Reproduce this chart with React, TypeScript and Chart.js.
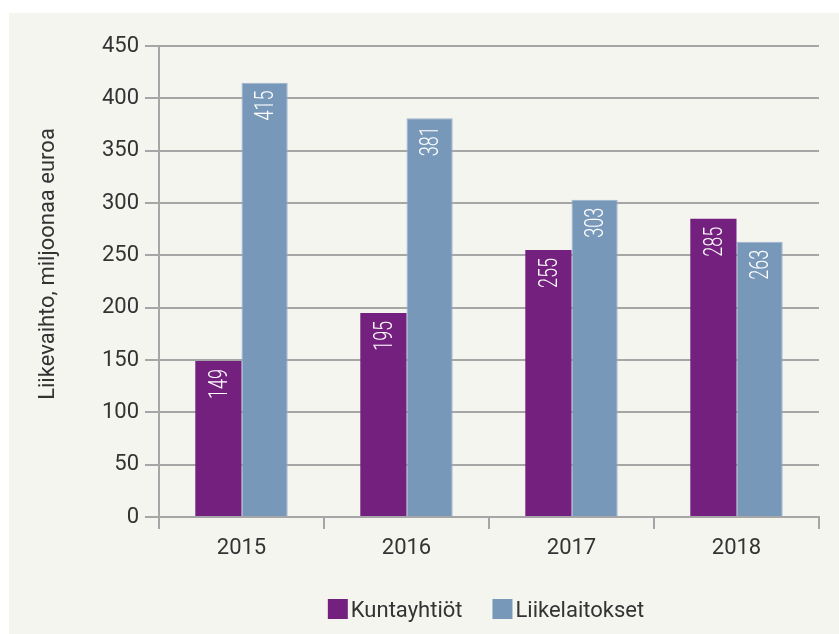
import React, { useEffect, useRef } from "react";
import { Chart, registerables } from "chart.js";

Chart.register(...registerables);

const categories = ["2015", "2016", "2017", "2018"];
const seriesNames = ["Kuntayhtiöt", "Liikelaitokset"];
const kuntayhtiot = [149, 195, 255, 285];
const liikelaitokset = [415, 381, 303, 263];
const yTitle = "Liikevaihto, miljoonaa euroa";

const PURPLE = "#74207f";
const BLUE = "#7898ba";
const FONT = "Roboto";
const TEXT = "#333333";
const GRID = "#a6a6a6";

const bgPlugin = {
  id: "bgBox",
  beforeDraw(chart: any) {
    const ctx = chart.ctx;
    ctx.save();
    ctx.fillStyle = "#ffffff";
    ctx.fillRect(0, 0, chart.width, chart.height);
    ctx.fillStyle = "#f5f5f0";
    ctx.fillRect(9, 13, chart.width - 9, chart.height - 13);
    ctx.restore();
  },
};

const labelPlugin = {
  id: "barLabels",
  afterDatasetsDraw(chart: any) {
    const ctx = chart.ctx;
    ctx.save();
    ctx.fillStyle = "#ffffff";
    ctx.font = `300 25px ${FONT}`;
    ctx.textAlign = "right";
    ctx.textBaseline = "alphabetic";
    chart.data.datasets.forEach((ds: any, di: number) => {
      const meta = chart.getDatasetMeta(di);
      meta.data.forEach((el: any, i: number) => {
        const v = ds.data[i];
        ctx.save();
        ctx.translate(el.x, el.y + 8);
        ctx.rotate(-Math.PI / 2);
        ctx.scale(0.72, 1);
        ctx.fillText(String(v), 0, 25 * 0.711 / 2);
        ctx.restore();
      });
    });
    ctx.restore();
  },
};

const titleLegendPlugin = {
  id: "titleLegend",
  afterDraw(chart: any) {
    const ctx = chart.ctx;
    const area = chart.chartArea;
    ctx.save();
    ctx.fillStyle = TEXT;
    ctx.font = `22px ${FONT}`;
    ctx.textAlign = "center";
    ctx.textBaseline = "middle";
    ctx.translate(48, 264);
    ctx.rotate(-Math.PI / 2);
    ctx.fillText(yTitle, 0, 0);
    ctx.restore();

    ctx.save();
    ctx.font = `22px ${FONT}`;
    ctx.textBaseline = "alphabetic";
    ctx.textAlign = "left";
    const box = 20;
    const gap = 3;
    const spacing = 30;
    const items = chart.data.datasets.map((ds: any) => ({
      label: ds.label,
      color: ds.backgroundColor,
      w: ctx.measureText(ds.label).width,
    }));
    let total = 0;
    items.forEach((it: any, i: number) => {
      total += box + gap + it.w + (i > 0 ? spacing : 0);
    });
    let x = (area.left + area.right) / 2 - total / 2 - 3;
    const boxTop = 599;
    items.forEach((it: any) => {
      ctx.fillStyle = it.color;
      ctx.fillRect(x, boxTop, box, box);
      ctx.fillStyle = TEXT;
      ctx.fillText(it.label, x + box + gap, 617);
      x += box + gap + it.w + spacing;
    });
    ctx.restore();
  },
};

export default function App() {
  const ref = useRef<HTMLCanvasElement | null>(null);

  useEffect(() => {
    document.body.style.margin = "0";
    const canvas = ref.current;
    if (!canvas) return;
    const chart = new Chart(canvas, {
      type: "bar",
      data: {
        labels: categories,
        datasets: [
          {
            label: seriesNames[0],
            data: kuntayhtiot,
            backgroundColor: PURPLE,
            borderWidth: 0,
          },
          {
            label: seriesNames[1],
            data: liikelaitokset,
            backgroundColor: BLUE,
            borderColor: "#9cb2cc",
            borderWidth: 1,
          },
        ],
      },
      options: {
        responsive: false,
        animation: false,
        devicePixelRatio: 1,
        layout: { padding: { top: 46, right: 20, bottom: 57, left: 0 } },
        datasets: {
          bar: { categoryPercentage: 0.56, barPercentage: 1.0 },
        },
        plugins: {
          legend: { display: false },
          tooltip: { enabled: false },
        },
        scales: {
          x: {
            offset: true,
            grid: {
              offset: true,
              drawOnChartArea: false,
              drawTicks: true,
              tickLength: 12,
              color: GRID,
              lineWidth: 2,
            },
            border: { display: true, color: GRID, width: 2 },
            ticks: {
              color: TEXT,
              font: { family: FONT, size: 22 },
              padding: 6,
            },
            afterFit(scale: any) {
              scale.height = 60;
            },
          },
          y: {
            min: 0,
            max: 450,
            ticks: {
              stepSize: 50,
              color: TEXT,
              font: { family: FONT, size: 22 },
              padding: 6,
            },
            grid: {
              color: GRID,
              lineWidth: 2,
              tickLength: 14,
              drawTicks: true,
            },
            border: { display: true, color: GRID, width: 2 },
            afterFit(scale: any) {
              scale.width = 159;
            },
          },
        },
      },
      plugins: [bgPlugin, labelPlugin, titleLegendPlugin],
    });
    return () => chart.destroy();
  }, []);

  return (
    <div style={{ width: 839, height: 634 }}>
      <canvas ref={ref} width={839} height={634} />
    </div>
  );
}
